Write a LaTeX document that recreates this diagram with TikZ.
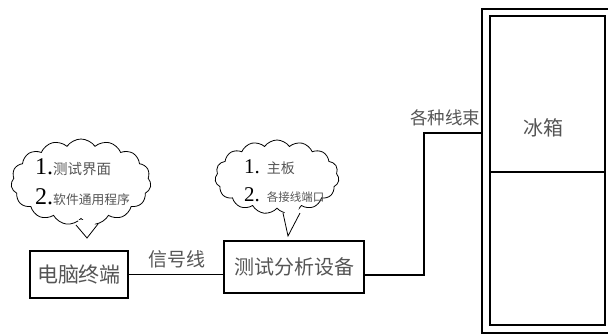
\documentclass[tikz,border=0pt]{standalone}
\usepackage{fontspec}
\setmainfont{Liberation Serif}
\newfontfamily\cjk{Noto Sans CJK SC}[Scale=1]
\usetikzlibrary{shapes.symbols}
\definecolor{txt}{HTML}{555555}
\begin{document}
\begin{tikzpicture}[x=1pt,y=-1pt,
  boxn/.style={draw,line width=1.6pt,minimum width=#1,inner sep=0pt},
  cloudn/.style={draw,cloud,cloud puffs=15,cloud puff arc=110,line width=0.8pt,inner sep=0pt},
  wire/.style={line width=1.4pt},
  lbl/.style={text=txt,font=\cjk\fontsize{15}{15}\selectfont,inner sep=0pt}]
\useasboundingbox (0,0) rectangle (608,333);
% clouds
\node[cloudn,minimum width=140pt,minimum height=86pt] (cl1) at (81,182) {};
\node[cloudn,minimum width=124pt,minimum height=74pt] (cl2) at (277,177) {};
% tails
\fill[white] (78,220) -- (87,238) -- (97,220) -- cycle;
\draw[line width=0.8pt] (76,225) -- (87,238) -- (98,224);
\fill[white] (284,208) -- (288,236) -- (299,208) -- cycle;
\draw[line width=0.8pt] (283,213) -- (288,236) -- (300,213);
% cloud texts
\node[anchor=west,inner sep=0pt] (t11) at (35,167) {\fontsize{24}{24}\selectfont 1.{\color{txt}\cjk\fontsize{14.5}{15}\selectfont 测试界面}};
\node[anchor=west,inner sep=0pt] (t12) at (35,197) {\fontsize{24}{24}\selectfont 2.{\color{txt}\cjk\fontsize{12.8}{13}\selectfont 软件通用程序}};
\node[anchor=west,inner sep=0pt] (t21) at (244,167) {\fontsize{21}{21}\selectfont 1. {\color{txt}\cjk\fontsize{14}{14}\selectfont 主板}};
\node[anchor=west,inner sep=0pt] (t22) at (244,195) {\fontsize{21}{21}\selectfont 2. {\color{txt}\cjk\fontsize{11.5}{12}\selectfont 各接线端口}};
% boxes
\node[boxn=98pt,minimum height=47pt,lbl,font=\cjk\fontsize{21}{21}\selectfont] (pc) at (79,274.5) {电脑终端};
\node[boxn=140pt,minimum height=52pt,lbl,font=\cjk\fontsize{20}{20}\selectfont] (dev) at (294,267) {测试分析设备};
% fridge
\node[draw,line width=1.6pt,minimum width=127pt,minimum height=324pt,inner sep=0pt] (fridge) at (545.5,171) {};
\node[draw,line width=1.6pt,minimum width=115pt,minimum height=156pt,inner sep=0pt] (top) at (547.5,94) {};
\node[draw,line width=1.6pt,minimum width=115pt,minimum height=153pt,inner sep=0pt] (bot) at (547.5,248.5) {};
\node[lbl,font=\cjk\fontsize{20}{20}\selectfont] (ice) at (543,128) {冰箱};
% wires
\draw[wire] (pc.east) -- (pc.east -| dev.west);
\node[lbl,font=\cjk\fontsize{19}{19}\selectfont] (sig) at (177,259) {信号线};
\coordinate (c1) at (424,275);
\coordinate (c2) at (424,133);
\draw[wire] (c1 -| dev.east) -- (c1) -- (c2) -- (c2 -| fridge.west);
\node[lbl,font=\cjk\fontsize{17.5}{17.5}\selectfont] (bund) at (445,118) {各种线束};
\end{tikzpicture}
\end{document}
